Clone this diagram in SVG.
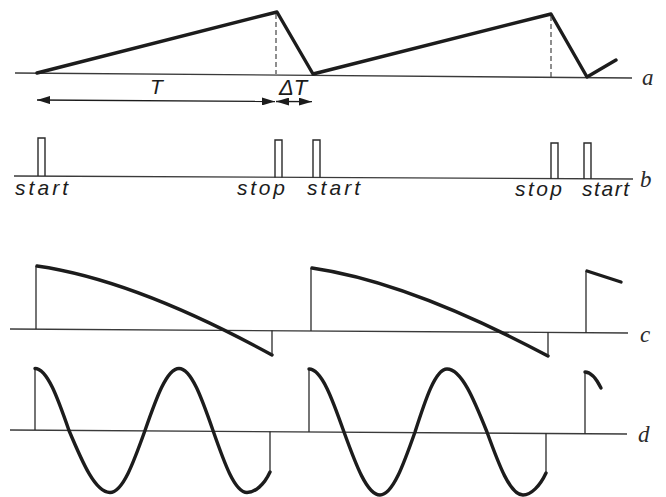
<svg xmlns="http://www.w3.org/2000/svg" width="666" height="497" viewBox="0 0 666 497">
<style>
.axis{stroke:#3a3a3a;stroke-width:1.3;fill:none}
.wave{stroke:#1c1c1c;stroke-width:3.4;fill:none;stroke-linejoin:round;stroke-linecap:round}
.thin{stroke:#2a2a2a;stroke-width:1.3;fill:none}
.dash{stroke:#444;stroke-width:1.2;fill:none;stroke-dasharray:5 3}
.pulse{stroke:#2a2a2a;stroke-width:1.4;fill:none}
.lbl{font-family:"Liberation Sans",Arial,sans-serif;font-style:italic;font-size:21px;fill:#1c1c1c}
.tr{font-family:"Liberation Serif","Times New Roman",serif;font-style:italic;font-size:23px;fill:#2a2a2a}
.arr{stroke:#1c1c1c;stroke-width:1.3;fill:none}
</style>
<defs>
<marker id="ah" viewBox="0 0 13 8" refX="13" refY="4" markerWidth="13" markerHeight="8" markerUnits="userSpaceOnUse" orient="auto-start-reverse">
<path d="M0,0 L13,4 L0,8 z" fill="#1c1c1c"/>
</marker>
</defs>
<rect width="666" height="497" fill="#fff"/>

<g id="trace-a">
<line class="axis" x1="15" y1="73" x2="632" y2="78"/>
<polyline class="wave" points="37,73 277,12 313,74 551,14 587,77 616,60"/>
<line class="dash" x1="276" y1="14" x2="276" y2="74"/>
<line class="dash" x1="551" y1="16" x2="551" y2="77"/>
<text class="tr" x="642" y="85">a</text>
</g>

<g id="connectors">
<line class="arr" x1="37" y1="100" x2="275" y2="101.5" marker-start="url(#ah)" marker-end="url(#ah)"/>
<line class="arr" x1="276" y1="101.5" x2="312" y2="101.7" marker-start="url(#ah)" marker-end="url(#ah)"/>
</g>
<g id="label-T"><text class="lbl" x="150" y="94">T</text></g>
<g id="label-dT"><text class="lbl" x="279" y="95" style="font-size:22px">ΔT</text></g>

<g id="trace-b">
<line class="axis" x1="14" y1="176" x2="633" y2="179"/>
<path class="pulse" d="M38,176 V138 H45 V176"/>
<path class="pulse" d="M275,177.5 V140 H282 V177.5"/>
<path class="pulse" d="M313,177.5 V140 H320 V177.5"/>
<path class="pulse" d="M551,179 V143 H558 V179"/>
<path class="pulse" d="M584,179 V143 H591 V179"/>
<text class="lbl" x="15" y="195" textLength="53" lengthAdjust="spacing">start</text>
<text class="lbl" x="237" y="195" textLength="48" lengthAdjust="spacing">stop</text>
<text class="lbl" x="307" y="195" textLength="53" lengthAdjust="spacing">start</text>
<text class="lbl" x="515" y="196" textLength="47" lengthAdjust="spacing">stop</text>
<text class="lbl" x="582" y="196" textLength="47" lengthAdjust="spacing">start</text>
<text class="tr" x="640" y="187">b</text>
</g>

<g id="trace-c">
<line class="axis" x1="10" y1="329" x2="628" y2="333"/>
<line class="thin" x1="36" y1="329" x2="36" y2="266"/>
<path class="wave" d="M37,266 Q135,280 272,355"/>
<line class="thin" x1="272" y1="355" x2="272" y2="330.5"/>
<line class="thin" x1="311" y1="331" x2="311" y2="268"/>
<path class="wave" d="M312,268 Q409,282 548,356"/>
<line class="thin" x1="548" y1="356" x2="548" y2="332"/>
<line class="thin" x1="586" y1="333" x2="586" y2="271"/>
<line class="wave" x1="587" y1="271" x2="621" y2="282"/>
<text class="tr" x="640" y="342">c</text>
</g>

<g id="trace-d">
<line class="axis" x1="10" y1="430" x2="627" y2="434"/>
<line class="thin" x1="35" y1="430" x2="35" y2="368"/>
<path class="wave" d="M35,368.5 C47.3,368.5 57.9,398.7 69,430.5 C82.4,462.3 95.2,492.5 110,492.5 C122.7,492.5 133.6,462.3 145,430.5 C156.1,398.7 166.7,368.5 179,368.5 C191.3,368.5 201.9,398.7 213,430.5 C224.1,462.3 234.7,492.5 247,492.5 C255,492.5 264,485 270,472"/>
<line class="thin" x1="270" y1="472" x2="270" y2="431.5"/>
<line class="thin" x1="309" y1="432" x2="309" y2="369"/>
<path class="wave" d="M309,369 C321.7,369 332.6,399.7 344,432 C355.7,464.3 367,495 380,495 C392.7,495 403.6,464.3 415,432 C425.4,399.7 435.4,369 447,369 C461.5,369 474,399.7 487,432 C498.7,464.3 510,495 523,495 C531,495 540,486 546,473"/>
<line class="thin" x1="546" y1="473" x2="546" y2="433"/>
<line class="thin" x1="585" y1="434" x2="585" y2="372"/>
<path class="wave" d="M585,372 Q593,372 601,388"/>
<text class="tr" x="638" y="442">d</text>
</g>
</svg>
